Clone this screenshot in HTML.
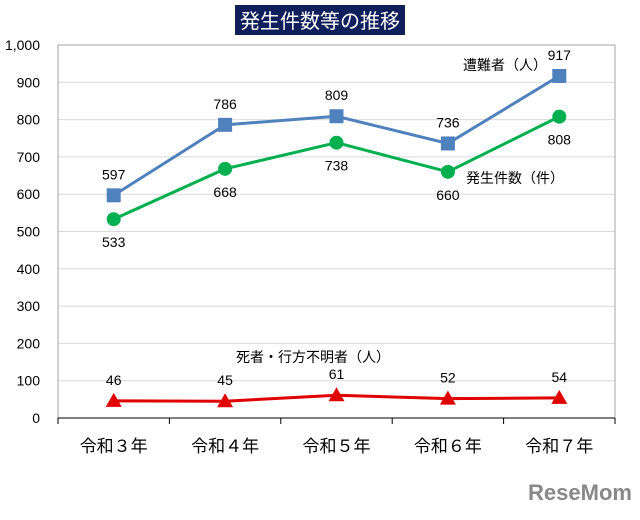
<!DOCTYPE html>
<html><head><meta charset="utf-8"><style>
body{margin:0;background:#fff;width:640px;height:515px;overflow:hidden}
svg text{font-family:"Liberation Sans","Noto Sans CJK JP",sans-serif}
</style></head><body>
<svg width="640" height="515" viewBox="0 0 640 515">
<rect x="235" y="5" width="170" height="30" fill="#0f1f5c"/>
<text x="320" y="28" text-anchor="middle" font-size="20" fill="#fff">発生件数等の推移</text>
<g id="grid"></g><g id="axes"></g><g id="series"></g>
<text x="505" y="70" text-anchor="middle" font-size="14" fill="#000">遭難者（人）</text>
<text x="515" y="183" text-anchor="middle" font-size="14" fill="#000">発生件数（件）</text>
<text x="313" y="362" text-anchor="middle" font-size="14" fill="#000">死者・行方不明者（人）</text>
<text x="580" y="500" text-anchor="middle" font-size="22" font-weight="bold" fill="#888">ReseMom</text>
</svg>
<script>
const categories=["令和３年","令和４年","令和５年","令和６年","令和７年"];
const victims=[597,786,809,736,917];
const incidents=[533,668,738,660,808];
const deadMissing=[46,45,61,52,54];
const yTicks=[0,100,200,300,400,500,600,700,800,900,1000];
const yTickLabels=["0","100","200","300","400","500","600","700","800","900","1,000"];
const NS="http://www.w3.org/2000/svg";
const L=58,R=615,T=45,B=418;
const cw=(R-L)/categories.length;
const x=i=>L+cw*(i+0.5);
const y=v=>B-(v/1000)*(B-T);
function mk(tag,attrs,parent,txt){const e=document.createElementNS(NS,tag);for(const k in attrs)e.setAttribute(k,attrs[k]);if(txt!==undefined)e.textContent=txt;document.getElementById(parent).appendChild(e);return e;}
yTicks.forEach((t,i)=>{
  if(t>0){const g=mk('line',{x1:L,x2:R,y1:y(t),y2:y(t),stroke:'#d9d9d9','stroke-width':1},'grid');
  
  }
  const tl=mk('text',{x:40,y:y(t)+5,'text-anchor':'end','font-size':14,fill:'#000'},'axes',yTickLabels[i]);
  
  
});
const fr=mk('rect',{x:L,y:T,width:R-L,height:B-T,fill:'none',stroke:'#a6a6a6'},'axes');


const xa=mk('line',{x1:L,x2:R,y1:B,y2:B,stroke:'#000'},'axes');


for(let i=0;i<=categories.length;i++){const tk=mk('line',{x1:L+cw*i,x2:L+cw*i,y1:B,y2:B+6,stroke:'#000'},'axes');

}
categories.forEach((c,i)=>{const t=mk('text',{x:x(i),y:B+34,'text-anchor':'middle','font-size':17,fill:'#000'},'axes',c);

});
function series(vals,color,shape,name,d){
  const p=mk('polyline',{points:vals.map((v,i)=>x(i)+','+y(v)).join(' '),fill:'none',stroke:color,'stroke-width':3},'series');
  
  
  vals.forEach((v,i)=>{let m;const cx=x(i),cy=y(v);
    if(shape==='sq')m=mk('rect',{x:cx-7,y:cy-7,width:14,height:14,fill:color},'series');
    else if(shape==='c')m=mk('circle',{cx:cx,cy:cy,r:7,fill:color},'series');
    else m=mk('polygon',{points:`${cx},${cy-8} ${cx+8},${cy+6} ${cx-8},${cy+6}`,fill:color},'series');
    
    
    const t=mk('text',{x:cx,y:cy+d,'text-anchor':'middle','font-size':14,fill:'#000'},'series',String(v));
    
    
  });
}
series(victims,'#4f81bd','sq','victims',-16);
series(incidents,'#00b050','c','incidents',28);
series(deadMissing,'#e00000','tri','dead-missing',-16);
</script>
</body></html>
